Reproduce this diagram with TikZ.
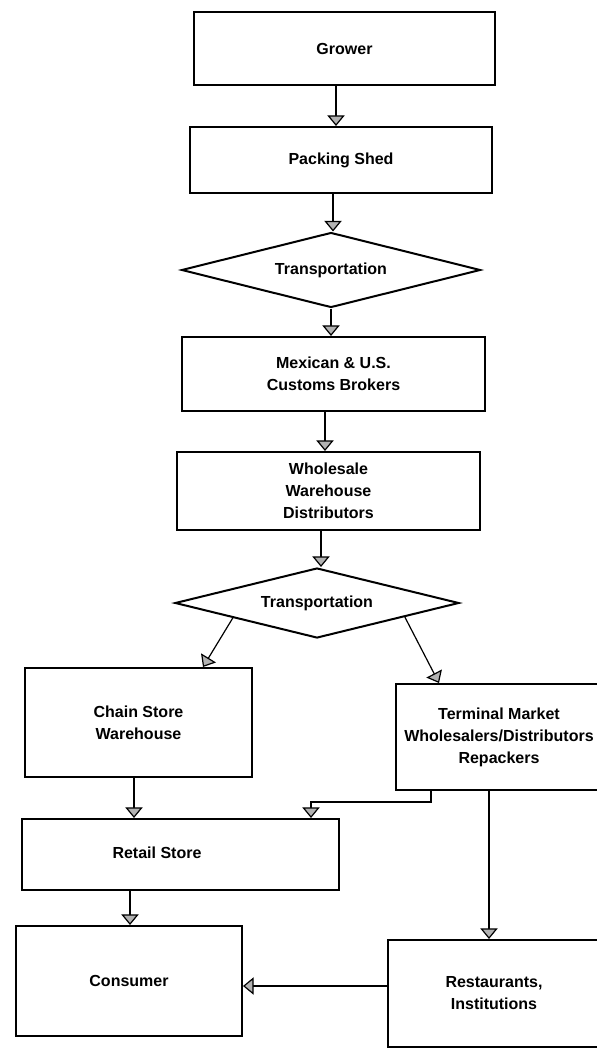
\documentclass[tikz,border=0pt]{standalone}
\usepackage{fontspec}
\setmainfont{Liberation Sans}
\usetikzlibrary{shapes.geometric,arrows.meta,calc}

\tikzset{
	box/.style={draw, rectangle, line width=1.5pt, inner sep=0pt, align=center, font=\fontsize{12}{16.5}\selectfont\bfseries},
	decision/.style={draw, diamond, aspect=4, line width=1.5pt, inner sep=0pt, align=center, font=\fontsize{12}{16.5}\selectfont\bfseries},
	flow/.style={line width=0.9pt, -{Triangle[width=13pt,length=8pt,fill=gray!60]}}
}

\begin{document}
\begin{tikzpicture}[x=0.75pt,y=0.75pt,yscale=-1,xscale=1]
	\useasboundingbox (0,0) rectangle (596,1049); %set diagram to 596 x 1049
	
	%Shape: Rectangle [id:grower]
	\node [box, minimum width=225.75pt, minimum height=54.75pt] (grower) at (344.5,48.5) {Grower};
	%Shape: Rectangle [id:packing]
	\node [box, minimum width=226.5pt, minimum height=49.5pt] (packing) at (341,160) {Packing Shed};
	%Shape: Diamond [id:transport1]
	\node [decision, minimum width=224.25pt, minimum height=56.25pt] (transport1) at (331,270) {Transportation};
	%Shape: Rectangle [id:customs]
	\node [box, minimum width=227.25pt, minimum height=55.5pt] (customs) at (333.5,374) {Mexican \& U.S.\\Customs Brokers};
	%Shape: Rectangle [id:wholesale]
	\node [box, minimum width=227.25pt, minimum height=58.5pt] (wholesale) at (328.5,491) {Wholesale\\Warehouse\\Distributors};
	%Shape: Diamond [id:transport2]
	\node [decision, minimum width=213pt, minimum height=52.5pt] (transport2) at (317,603) {Transportation};
	%Shape: Rectangle [id:chain]
	\node [box, minimum width=170.25pt, minimum height=81.75pt] (chain) at (138.5,722.5) {Chain Store\\Warehouse};
	%Shape: Rectangle [id:terminal]
	\node [box, minimum width=154.5pt, minimum height=79.5pt] (terminal) at (499,737) {Terminal Market\\Wholesalers/Distributors\\Repackers};
	%Shape: Rectangle [id:retail]
	\node [box, minimum width=237.75pt, minimum height=53.25pt] (retail) at (180.5,854.5) {};
	%Shape: Rectangle [id:consumer]
	\node [box, minimum width=169.5pt, minimum height=82.5pt] (consumer) at (129,981) {Consumer};
	%Shape: Rectangle [id:restaurants]
	\node [box, minimum width=159pt, minimum height=80.25pt] (restaurants) at (494,993.5) {Restaurants,\\Institutions};
	
	% Text Node
	\node [font=\fontsize{12}{16.5}\selectfont\bfseries] (retailtext) at (157,853) {Retail Store};
	
	%Straight Lines [id:grower-packing]
	\draw [flow] ($(grower.south)+(-8.5,0)$) coordinate (g1) -- (g1 |- packing.north) ;
	%Straight Lines [id:packing-transport1]
	\draw [flow] ($(packing.south)+(-8,0)$) coordinate (p1) -- (p1 |- transport1.north) ;
	%Straight Lines [id:transport1-customs]
	\draw [flow] (transport1.south) -- (transport1.south |- customs.north) ;
	%Straight Lines [id:customs-wholesale]
	\draw [flow] ($(customs.south)+(-8.5,0)$) coordinate (c1) -- (c1 |- wholesale.north) ;
	%Straight Lines [id:wholesale-transport2]
	\draw [flow] ($(wholesale.south)+(-7.5,0)$) coordinate (w1) -- (w1 |- transport2.north) ;
	%Straight Lines [id:transport2-chain]
	\draw [flow] (transport2.190) -- ($(chain.north)+(64.5,0)$) ;
	%Straight Lines [id:transport2-terminal]
	\draw [flow] (transport2.351) -- ($(terminal.north)+(-60,0)$) ;
	%Straight Lines [id:chain-retail]
	\draw [flow] ($(chain.south)+(-4.5,0)$) coordinate (ch1) -- (ch1 |- retail.north) ;
	%Straight Lines [id:terminal-retail]
	\draw [flow] ($(terminal.south)+(-68,0)$) -- ++(0,11) -| ($(retail.north)+(130.5,0)$) ;
	%Straight Lines [id:terminal-restaurants]
	\draw [flow] ($(terminal.south)+(-10,0)$) coordinate (t2) -- (t2 |- restaurants.north) ;
	%Straight Lines [id:retail-consumer]
	\draw [flow] ($(retail.south)+(-50.5,0)$) coordinate (r1) -- (r1 |- consumer.north) ;
	%Straight Lines [id:restaurants-consumer]
	\draw [flow] ($(restaurants.west)+(0,-7.5)$) coordinate (rs1) -- (rs1 -| consumer.east) ;
	
\end{tikzpicture}
\end{document}
